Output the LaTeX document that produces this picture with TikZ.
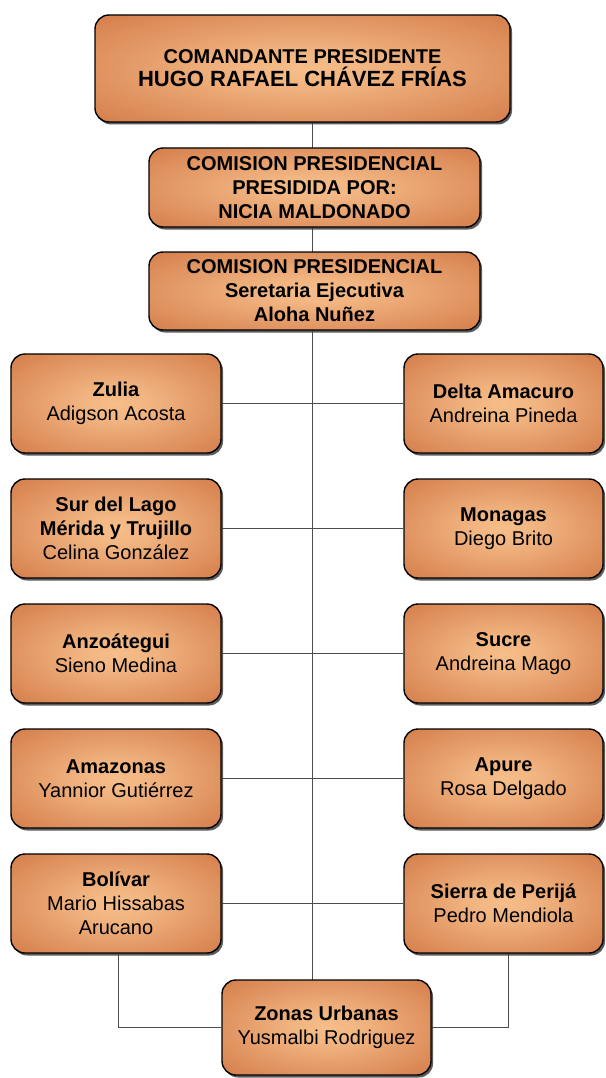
\documentclass[tikz,border=0pt]{standalone}
\usepackage{fontspec}
\setmainfont{Liberation Sans}
\usetikzlibrary{shadows,backgrounds}
\definecolor{boxedge}{HTML}{C5612F}
\definecolor{boxcentre}{HTML}{F6BE8A}
\definecolor{linkgray}{gray}{0.3}
\pgfdeclareradialshading{boxglow}{\pgfpoint{0bp}{0bp}}{color(0bp)=(boxcentre); color(8bp)=(boxcentre!90!boxedge); color(50bp)=(boxedge)}

\tikzset{
  orgbox/.style={draw=black, line width=1.4pt, rounded corners=14pt,
    shading=boxglow, align=center, inner sep=0pt,
    font=\fontsize{20}{24}\selectfont,
    drop shadow={shadow xshift=2pt, shadow yshift=-2.5pt, fill=black!75, opacity=0.85}},
  sidebox/.style={orgbox, minimum height=99pt},
  link/.style={draw=linkgray, line width=1pt}
}

\begin{document}
\begin{tikzpicture}[x=1pt,y=-1pt]
    \useasboundingbox (0,0) rectangle (605,1078);

    % cabeza
    \node [orgbox, minimum width=415pt, minimum height=107pt] (pres) at (302.5,68.5)
    {\bfseries COMANDANTE PRESIDENTE\\[-1pt]
     {\fontsize{22}{26}\selectfont\bfseries HUGO RAFAEL CH\'AVEZ FR\'IAS}};
    \node [orgbox, minimum width=331pt, minimum height=79pt] (comision) at (314.5,187.5)
    {\bfseries COMISION PRESIDENCIAL\\ \bfseries PRESIDIDA POR:\\ \bfseries NICIA MALDONADO};
    \node [orgbox, minimum width=331pt, minimum height=78pt] (secretaria) at (314.5,291)
    {\bfseries COMISION PRESIDENCIAL\\ \bfseries Seretaria Ejecutiva\\ \bfseries Aloha Nuñez};

    % columna izquierda
    \node [sidebox, minimum width=210pt] (zulia) at (116,403.5)
    {\textbf{Zulia}\\Adigson Acosta};
    \node [sidebox, minimum width=210pt] (surlago) at (116,528.5)
    {\textbf{Sur del Lago}\\ \textbf{Mérida y Trujillo}\\Celina González};
    \node [sidebox, minimum width=210pt] (anzoategui) at (116,653.5)
    {\textbf{Anzoátegui}\\Sieno Medina};
    \node [sidebox, minimum width=210pt] (amazonas) at (116,778.5)
    {\textbf{Amazonas}\\Yannior Gutiérrez};
    \node [sidebox, minimum width=210pt] (bolivar) at (116,903.5)
    {\textbf{Bolívar}\\Mario Hissabas\\Arucano};

    % columna derecha
    \node [sidebox, minimum width=199pt] (delta) at (503.5,403.5)
    {\textbf{Delta Amacuro}\\Andreina Pineda};
    \node [sidebox, minimum width=199pt] (monagas) at (503.5,528.5)
    {\textbf{Monagas}\\Diego Brito};
    \node [sidebox, minimum width=199pt] (sucre) at (503.5,653.5)
    {\textbf{Sucre}\\Andreina Mago};
    \node [sidebox, minimum width=199pt] (apure) at (503.5,778.5)
    {\textbf{Apure}\\Rosa Delgado};
    \node [sidebox, minimum width=199pt] (sierra) at (503.5,903.5)
    {\textbf{Sierra de Perijá}\\Pedro Mendiola};

    \node [orgbox, minimum width=209pt, minimum height=95pt] (zonas) at (326.5,1027.5)
    {\textbf{Zonas Urbanas}\\Yusmalbi Rodriguez};

    % conexiones
    \begin{scope}[on background layer]
    \coordinate (trunktop) at (312,122);
    \coordinate (trunkbot) at (312,980);
    \coordinate (leftdrop) at (118,953);
    \coordinate (rightdrop) at (508,953);
    \draw [link] (trunktop) -- (trunkbot);
    \draw [link] (zulia.east) -- (delta.west);
    \draw [link] (surlago.east) -- (monagas.west);
    \draw [link] (anzoategui.east) -- (sucre.west);
    \draw [link] (amazonas.east) -- (apure.west);
    \draw [link] (bolivar.east) -- (sierra.west);
    \draw [link] (leftdrop) |- (zonas.west);
    \draw [link] (rightdrop) |- (zonas.east);
    \end{scope}
\end{tikzpicture}
\end{document}
